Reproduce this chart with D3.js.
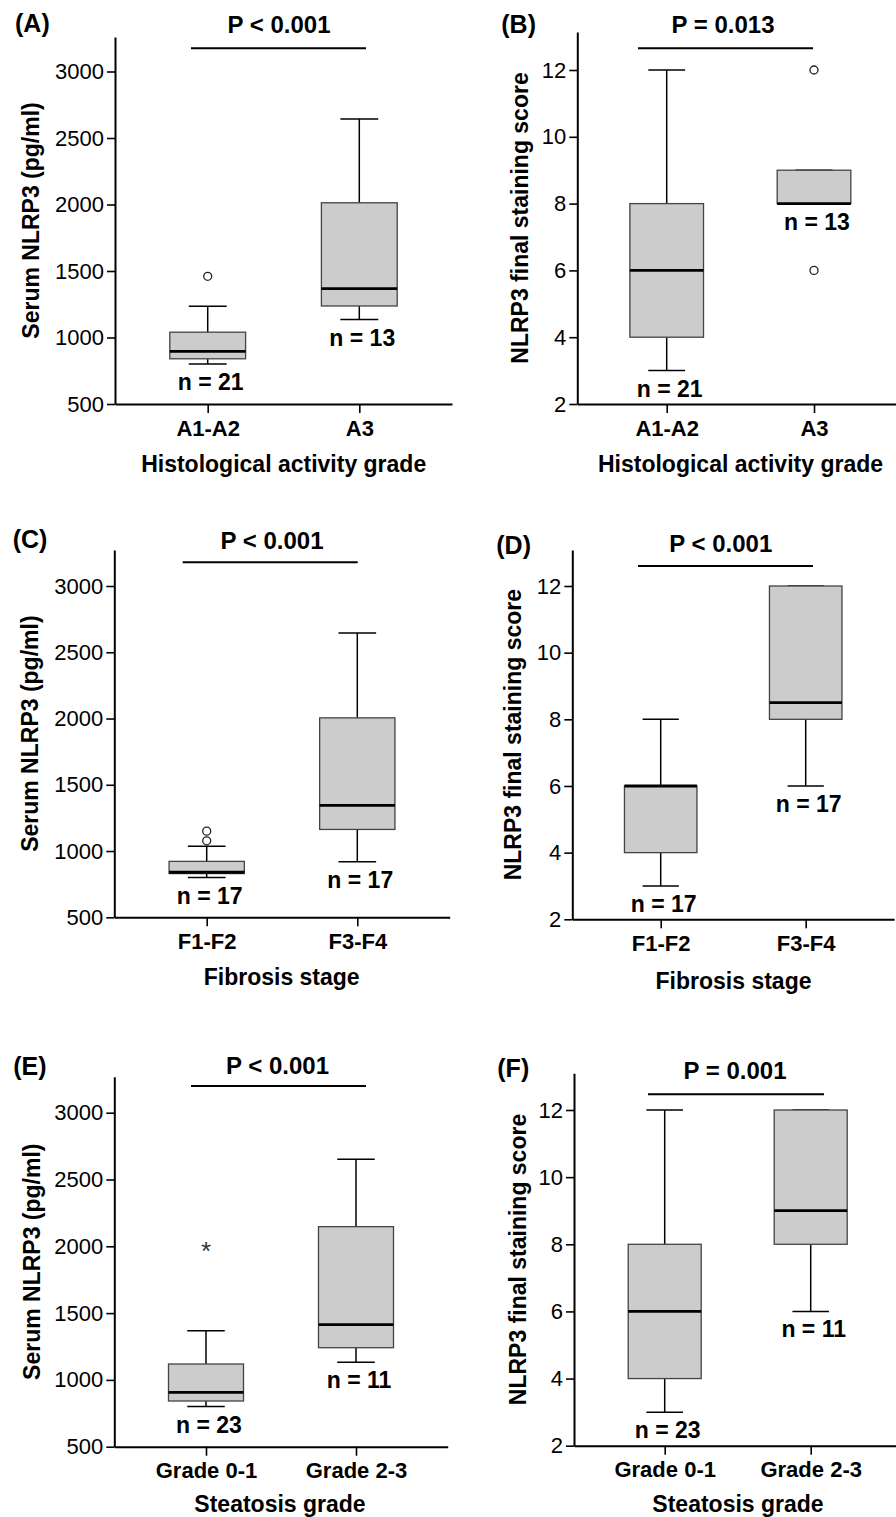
<!DOCTYPE html>
<html>
<head>
<meta charset="utf-8">
<script src="https://cdn.jsdelivr.net/npm/d3@7"></script>
<style>
  body { margin: 0; background: #fff; }
  svg text { font-family: "Liberation Sans", Arial, sans-serif; }
</style>
</head>
<body>
<div id="chart"></div>
<script>
// groups and axis ticks
const activityGroups = ["A1-A2", "A3"];
const fibrosisGroups = ["F1-F2", "F3-F4"];
const steatosisGroups = ["Grade 0-1", "Grade 2-3"];

const serumTicks = [500, 1000, 1500, 2000, 2500, 3000];
const scoreTicks = [2, 4, 6, 8, 10, 12];

// box stats: [lower whisker, Q1, median, Q3, upper whisker]
const serumActivity = [[800, 840, 895, 1040, 1235], [1135, 1237, 1368, 2013, 2643]];
const scoreActivity = [[3, 4, 6, 8, 12], [8, 8, 8, 9, 9]];
const serumFibrosis = [[800, 830, 840, 922, 1037], [919, 1163, 1344, 2005, 2645]];
const scoreFibrosis = [[3, 4, 6, 6, 8], [6, 8, 8.5, 12, 12]];
const serumSteatosis = [[800, 842, 907, 1119, 1368], [1132, 1241, 1413, 2147, 2651]];
const scoreSteatosis = [[3, 4, 6, 8, 12], [6, 8, 9, 12, 12]];

// outliers (circles) and extremes (asterisks)
const outSerumActivity = [[1460], []];
const outScoreActivity = [[], [12, 6]];
const outSerumFibrosis = [[1077, 1150], []];
const extSerumSteatosis = [[2000], []];

const activityN = [21, 13];
const fibrosisN = [17, 17];
const steatosisN = [23, 11];

const pValues = ["P < 0.001", "P = 0.013", "P < 0.001", "P < 0.001", "P < 0.001", "P = 0.001"];
const panelLetters = ["(A)", "(B)", "(C)", "(D)", "(E)", "(F)"];
const xTitles = ["Histological activity grade", "Fibrosis stage", "Steatosis grade"];
const yTitles = ["Serum NLRP3 (pg/ml)", "NLRP3 final staining score"];

const none = [[], []];

const panels = [
  { groups: activityGroups, stats: serumActivity, outliers: outSerumActivity, extremes: none, n: activityN, ticks: serumTicks, yTitle: yTitles[0], xTitle: xTitles[0],
    f: { x0: 115, c1: 207.7, c2: 359.3, yBot: 404, yTopTick: 71.5, yTop: 37, letter: [15, 31.7], p: [279, 33], bar: [191, 366, 48.3], yTitleX: 39, xt: [283.7, 471.7] } },
  { groups: activityGroups, stats: scoreActivity, outliers: outScoreActivity, extremes: none, n: activityN, ticks: scoreTicks, yTitle: yTitles[1], xTitle: xTitles[0],
    f: { x0: 577.3, c1: 666.7, c2: 814, yBot: 404, yTopTick: 70, yTop: 32, letter: [501.3, 33.3], p: [723, 33.3], bar: [638, 813, 48.3], yTitleX: 528, xt: [740.5, 471.7] } },
  { groups: fibrosisGroups, stats: serumFibrosis, outliers: outSerumFibrosis, extremes: none, n: fibrosisN, ticks: serumTicks, yTitle: yTitles[0], xTitle: xTitles[1],
    f: { x0: 114.3, c1: 206.7, c2: 357.3, yBot: 917.3, yTopTick: 586, yTop: 550, letter: [12.7, 548], p: [272, 549.3], bar: [182.7, 357.7, 562.3], yTitleX: 38, xt: [281.7, 985] } },
  { groups: fibrosisGroups, stats: scoreFibrosis, outliers: none, extremes: none, n: fibrosisN, ticks: scoreTicks, yTitle: yTitles[1], xTitle: xTitles[1],
    f: { x0: 572.3, c1: 660.7, c2: 805.7, yBot: 919.3, yTopTick: 586, yTop: 550, letter: [496.3, 554], p: [720.8, 551.7], bar: [638, 813, 566], yTitleX: 521, xt: [733.5, 989.3] } },
  { groups: steatosisGroups, stats: serumSteatosis, outliers: none, extremes: extSerumSteatosis, n: steatosisN, ticks: serumTicks, yTitle: yTitles[0], xTitle: xTitles[2],
    f: { x0: 114.3, c1: 206, c2: 356, yBot: 1446.7, yTopTick: 1112.7, yTop: 1076.7, letter: [13.3, 1075], p: [277.5, 1074], bar: [191, 366, 1086], yTitleX: 40, xt: [280, 1511.7] } },
  { groups: steatosisGroups, stats: scoreSteatosis, outliers: none, extremes: none, n: steatosisN, ticks: scoreTicks, yTitle: yTitles[1], xTitle: xTitles[2],
    f: { x0: 574, c1: 664.7, c2: 810.7, yBot: 1445.7, yTopTick: 1110, yTop: 1073.3, letter: [497.3, 1076.7], p: [735, 1079.3], bar: [648, 824, 1094.3], yTitleX: 526, xt: [738, 1511.7] } }
];

const svg = d3.select("#chart").append("svg")
    .attr("width", 896)
    .attr("height", 1517);

function drawPanel(pn, i) {
    const f = pn.f;
    const g = svg.append("g");

    // y scale: fit ticks, then stretch the domain up to the axis top
    const y = d3.scaleLinear()
        .domain([pn.ticks[0], pn.ticks[pn.ticks.length - 1]])
        .range([f.yBot, f.yTopTick]);
    y.domain([pn.ticks[0], y.invert(f.yTop)]).range([f.yBot, f.yTop]);

    const step = f.c2 - f.c1;
    const pad = (f.c1 - f.x0) / step;
    const x = d3.scalePoint()
        .domain(pn.groups)
        .range([f.x0, f.x0 + step * (1 + 2 * pad)])
        .padding(pad);

    const boxW = step / 2, capW = step / 4;

    // y axis
    const ya = g.append("g")
        .attr("transform", `translate(${f.x0},0)`)
        .call(d3.axisLeft(y).tickValues(pn.ticks).tickFormat(d3.format("d"))
            .tickSize(8).tickPadding(3).tickSizeOuter(0));
    ya.select(".domain").attr("stroke-width", 2);
    ya.selectAll(".tick line").attr("stroke-width", 1.6);
    ya.selectAll(".tick text").attr("font-size", 22).attr("fill", "#000");

    // x axis
    const xa = g.append("g")
        .attr("transform", `translate(0,${f.yBot})`)
        .call(d3.axisBottom(x).tickSize(9).tickPadding(7).tickSizeOuter(0));
    xa.select(".domain").attr("stroke-width", 2);
    xa.selectAll(".tick line").attr("stroke-width", 1.6);
    xa.selectAll(".tick text").attr("font-size", 22).attr("font-weight", "bold").attr("fill", "#000");
    ya.attr("font-family", null);
    xa.attr("font-family", null);

    const boxes = g.selectAll(".box")
        .data(pn.stats.map((s, j) => ({ s: s, grp: pn.groups[j], j: j })))
        .join("g")
        .attr("class", "box");

    // whiskers
    boxes.append("line")
        .attr("x1", d => x(d.grp)).attr("x2", d => x(d.grp))
        .attr("y1", d => y(d.s[4])).attr("y2", d => y(d.s[3]))
        .attr("stroke", "#000").attr("stroke-width", 1.5);
    boxes.append("line")
        .attr("x1", d => x(d.grp)).attr("x2", d => x(d.grp))
        .attr("y1", d => y(d.s[1])).attr("y2", d => y(d.s[0]))
        .attr("stroke", "#000").attr("stroke-width", 1.5);
    [0, 4].forEach(k => {
        boxes.append("line")
            .attr("x1", d => x(d.grp) - capW / 2).attr("x2", d => x(d.grp) + capW / 2)
            .attr("y1", d => y(d.s[k])).attr("y2", d => y(d.s[k]))
            .attr("stroke", "#000").attr("stroke-width", 1.5);
    });

    boxes.append("rect")
        .attr("x", d => x(d.grp) - boxW / 2)
        .attr("width", boxW)
        .attr("y", d => y(d.s[3]))
        .attr("height", d => y(d.s[1]) - y(d.s[3]))
        .attr("fill", "#cccccc")
        .attr("stroke", "#444")
        .attr("stroke-width", 1.3);

    boxes.append("line")
        .attr("x1", d => x(d.grp) - boxW / 2).attr("x2", d => x(d.grp) + boxW / 2)
        .attr("y1", d => y(d.s[2])).attr("y2", d => y(d.s[2]))
        .attr("stroke", "#000").attr("stroke-width", 2.8);

    // outliers
    pn.outliers.forEach((vals, j) => {
        g.selectAll(null).data(vals).join("circle")
            .attr("cx", x(pn.groups[j]))
            .attr("cy", d => y(d))
            .attr("r", 4)
            .attr("fill", "#fff")
            .attr("stroke", "#222")
            .attr("stroke-width", 1.3);
    });
    pn.extremes.forEach((vals, j) => {
        g.selectAll(null).data(vals).join("text")
            .attr("x", x(pn.groups[j]))
            .attr("y", d => y(d) + 14)
            .attr("text-anchor", "middle")
            .attr("font-size", 26)
            .attr("fill", "#333")
            .text("*");
    });

    // n labels under the lower whisker
    boxes.append("text")
        .attr("x", d => x(d.grp) + 3)
        .attr("y", d => y(d.s[0]) + 26)
        .attr("text-anchor", "middle")
        .attr("font-size", 23)
        .attr("font-weight", "bold")
        .text(d => "n = " + pn.n[d.j]);

    // significance bar
    g.append("line")
        .attr("x1", f.bar[0]).attr("x2", f.bar[1])
        .attr("y1", f.bar[2]).attr("y2", f.bar[2])
        .attr("stroke", "#000").attr("stroke-width", 2);
    g.append("text")
        .attr("x", f.p[0]).attr("y", f.p[1])
        .attr("text-anchor", "middle")
        .attr("font-size", 24)
        .attr("font-weight", "bold")
        .text(pValues[i]);

    g.append("text")
        .attr("x", f.letter[0]).attr("y", f.letter[1])
        .attr("font-size", 25)
        .attr("font-weight", "bold")
        .text(panelLetters[i]);

    g.append("text")
        .attr("transform", `translate(${f.yTitleX},${(f.yBot + f.yTop) / 2}) rotate(-90)`)
        .attr("text-anchor", "middle")
        .attr("font-size", 23)
        .attr("font-weight", "bold")
        .text(pn.yTitle);

    g.append("text")
        .attr("x", f.xt[0]).attr("y", f.xt[1])
        .attr("text-anchor", "middle")
        .attr("font-size", 23)
        .attr("font-weight", "bold")
        .text(pn.xTitle);
}

panels.forEach(drawPanel);
</script>
</body>
</html>
